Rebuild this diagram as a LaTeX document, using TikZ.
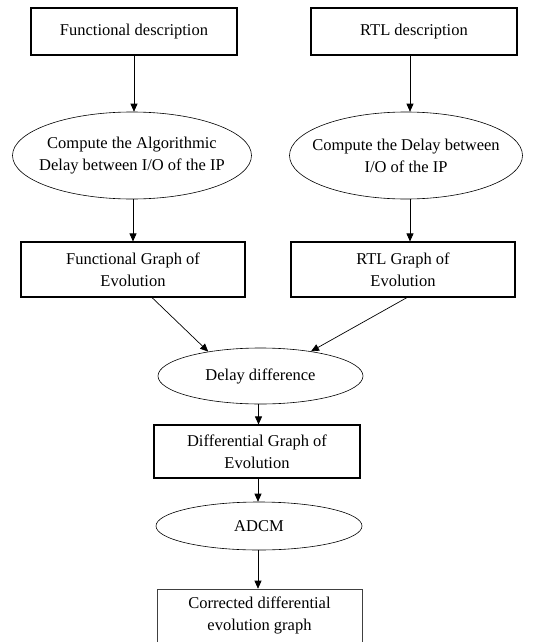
\documentclass[tikz,border=0pt]{standalone}
\usepackage{fontspec}
\setmainfont{Liberation Serif}
\usetikzlibrary{shapes.geometric}
\usetikzlibrary{arrows.meta}

\begin{document}
\begin{tikzpicture}[x=1pt,y=-1pt]
\tikzstyle{box}=[rectangle,align=center,draw,line width=1.1pt,inner sep=0pt,fill=white,
                 font=\fontsize{16.5}{22}\selectfont]
\tikzstyle{oval}=[ellipse,align=center,draw,line width=0.6pt,inner xsep=-30pt,inner ysep=0pt,
                  font=\fontsize{16.5}{22}\selectfont]
\tikzstyle{flow}=[-{Triangle[length=8pt,width=7pt]},line width=0.7pt]
\useasboundingbox (0,0) rectangle (556,642);
% two description paths
\node[box,minimum width=206pt,minimum height=47pt] at(134, 31.5) (fd) {Functional description};
\node[box,minimum width=206pt,minimum height=47pt] at(414, 31.5) (rd) {RTL description};
\node[oval,minimum width=239pt,minimum height=87pt] at(132, 155.5) (ca) {Compute the Algorithmic\\
                         Delay between I/O of the IP};
\node[oval,minimum width=233pt,minimum height=87pt] at(406, 155.5) (cd) {Compute the Delay between\\
                         I/O of the IP};
\node[box,minimum width=224pt,minimum height=55pt] at(133, 269.5) (fge) {Functional Graph of\\
                         Evolution};
\node[box,minimum width=224pt,minimum height=55pt] at(403, 269.5) (rge) {RTL Graph of\\
                         Evolution};
% merged path
\node[oval,minimum width=205pt,minimum height=56pt] at(260.5, 376) (dd) {Delay difference};
\node[box,minimum width=206pt,minimum height=53pt] at(257, 451.5) (dge) {Differential Graph of\\
                         Evolution};
\node[oval,minimum width=206pt,minimum height=48pt] at(259, 526) (adcm) {ADCM};
\node[box,line width=0.6pt,draw=black!75,minimum width=205pt,minimum height=53pt] at(259.5, 615.5) (cdeg)
                         {Corrected differential\\
                         evolution graph};

\draw[flow] (fd.south) -- (fd.south |- ca.north);
\draw[flow] ([xshift=-4pt]rd.south) -- ([xshift=-4pt]rd.south |- cd.north);
\draw[flow] ([xshift=1pt]ca.south) -- ([xshift=1pt]ca.south |- fge.north);
\draw[flow] ([xshift=4pt]cd.south) -- ([xshift=4pt]cd.south |- rge.north);
\draw[flow] ([xshift=19pt]fge.south) -- (dd.155);
\draw[flow] ([xshift=4pt]rge.south) -- (dd.26);
\draw[flow] ([xshift=-2pt]dd.south) -- ([xshift=-2pt]dd.south |- dge.north);
\draw[flow] ([xshift=1pt]dge.south) -- ([xshift=1pt]dge.south |- adcm.north);
\draw[flow] ([xshift=-1pt]adcm.south) -- ([xshift=-1pt]adcm.south |- cdeg.north);
\end{tikzpicture}
\end{document}
